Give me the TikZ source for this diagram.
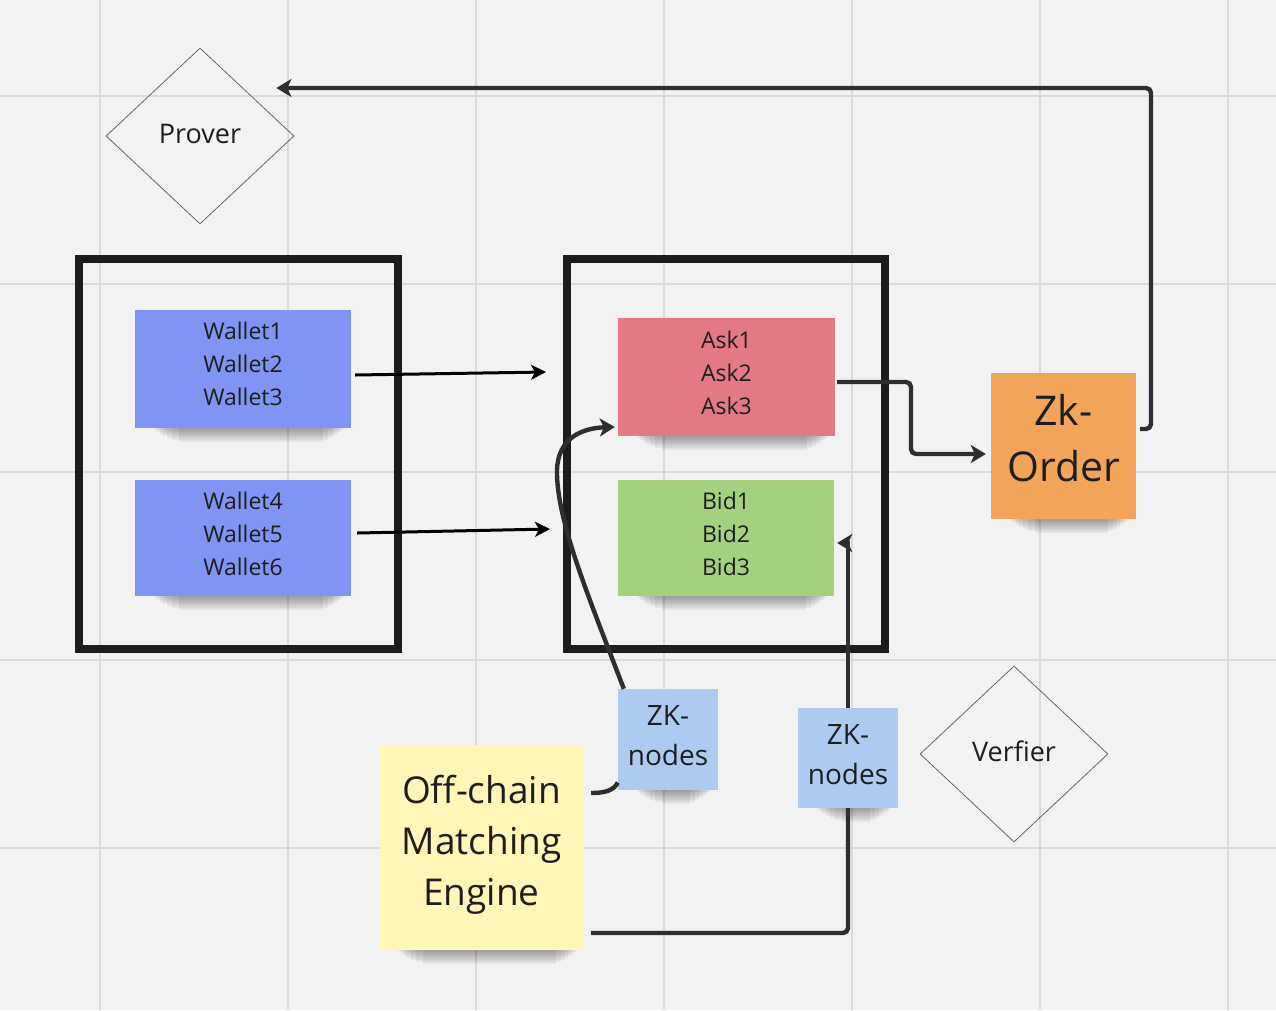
\documentclass[tikz,border=0pt]{standalone}
\usepackage{fontspec}
\setmainfont{Open Sans}
\usetikzlibrary{shapes.geometric,arrows.meta,calc}
\definecolor{bg}{HTML}{F2F2F2}
\definecolor{gridc}{HTML}{DADADA}
\definecolor{walletc}{HTML}{8094F3}
\definecolor{askc}{HTML}{E37985}
\definecolor{bidc}{HTML}{A4D07F}
\definecolor{orderc}{HTML}{F2A45B}
\definecolor{zkc}{HTML}{ADCBF0}
\definecolor{offc}{HTML}{FFF6B8}
\definecolor{framec}{HTML}{1C1C1C}
\definecolor{arrc}{HTML}{2E2E2E}
\definecolor{txtc}{HTML}{1E1E1E}
\definecolor{diagc}{HTML}{666666}
\newcommand\stickshadow[1]{%
  \foreach \h/\l/\r in {2/20/8,4/22/10,6/25/13,8/28/16,10/32/19,12/37/23,14/44/28}{%
    \fill[black,opacity=0.055] ($(#1.south west)+(\l,0)$) rectangle ($(#1.south east)+(-\r,\h)$);
  }%
}
\tikzset{
  sticky/.style={inner sep=0},
  stext/.style={inner sep=0, align=center, text=txtc},
  frame/.style={draw=framec, line width=8},
  thinarr/.style={draw=black, line width=3, -{Stealth[length=15,width=15,inset=4]}},
  arr/.style={draw=arrc, line width=4.4, rounded corners=5, -{Stealth[length=15,width=18,inset=4]}},
  conn/.style={draw=arrc, line width=4.4, rounded corners=5},
  decision/.style={diamond, draw=diagc, line width=0.8, inner sep=0},
  dtext/.style={inner sep=0, text=txtc, font=\fontsize{27}{36}\selectfont},
}
\begin{document}
\begin{tikzpicture}[x=1pt,y=-1pt]
\useasboundingbox (0,0) rectangle (1276,1010);
\fill[bg] (0,0) rectangle (1276,1010);
% grid
\foreach \gx in {100,288,476,664,852,1040,1228}
  \draw[gridc, line width=2] (\gx,0) -- (\gx,1010);
\foreach \gy in {96,284,472,660,848}
  \draw[gridc, line width=2] (0,\gy) -- (1276,\gy);

% frames
\node[frame, minimum width=319, minimum height=390, inner sep=0] (leftframe) at (238.5,454) {};
\node[frame, minimum width=318, minimum height=390, inner sep=0] (rightframe) at (726,454) {};

% diamonds
\node[decision, minimum width=188, minimum height=176] (prover) at (200,136) {};
\node[dtext] (provert) at (200,134) {Prover};
\node[decision, minimum width=188, minimum height=176] (verifier) at (1014,754) {};
\node[dtext] (verifiert) at (1014,751) {Verfier};

% stickies
\node[sticky, fill=walletc, minimum width=216, minimum height=118] (w1) at (243,369) {};
\node[sticky, fill=walletc, minimum width=216, minimum height=116] (w2) at (243,538) {};
\node[sticky, fill=askc, minimum width=217, minimum height=118] (ask) at (726.5,377) {};
\node[sticky, fill=bidc, minimum width=216, minimum height=116] (bid) at (726,538) {};
\node[sticky, fill=orderc, minimum width=145, minimum height=146] (order) at (1063.5,446) {};
\node[sticky, fill=zkc, minimum width=100, minimum height=101] (zk1) at (668,739.5) {};
\node[sticky, fill=zkc, minimum width=100, minimum height=100] (zk2) at (848,758) {};
\node[sticky, fill=offc, minimum width=205, minimum height=205] (off) at (481.5,847.5) {};

\stickshadow{w1}
\stickshadow{w2}
\stickshadow{ask}
\stickshadow{bid}
\stickshadow{order}
\stickshadow{zk1}
\stickshadow{zk2}
\stickshadow{off}

% texts
\node[stext, font=\fontsize{23}{33}\selectfont] (w1t) at ($(w1)+(0,-5)$) {Wallet1\\Wallet2\\Wallet3};
\node[stext, font=\fontsize{23}{33}\selectfont] (w2t) at ($(w2)+(0,-4)$) {Wallet4\\Wallet5\\Wallet6};
\node[stext, font=\fontsize{23}{33}\selectfont] (askt) at ($(ask)+(0,-4)$) {Ask1\\Ask2\\Ask3};
\node[stext, font=\fontsize{23}{33}\selectfont] (bidt) at ($(bid)+(0,-4)$) {Bid1\\Bid2\\Bid3};
\node[stext, font=\fontsize{41}{56}\selectfont] (ordert) at ($(order)+(0,-8)$) {Zk-\\Order};
\node[stext, font=\fontsize{28}{40}\selectfont] (zk1t) at ($(zk1)+(0,-4)$) {ZK-\\nodes};
\node[stext, font=\fontsize{28}{40}\selectfont] (zk2t) at ($(zk2)+(0,-3)$) {ZK-\\nodes};
\node[stext, font=\fontsize{37}{51}\selectfont] (offt) at ($(off)+(0,-3)$) {Off-chain\\Matching\\Engine};

% free ends
\coordinate (e1) at (546,372);
\coordinate (e2) at (550,529);

% connectors
\draw[thinarr] ($(w1.east)+(4,6)$) -- (e1);
\draw[thinarr] ($(w2.east)+(6,-5)$) -- (e2);
\draw[arr] ($(ask.east)+(2,5)$) -- (911,382) -- (911,454) -- ($(order.west)+(-5,8)$);
\draw[arr] ($(order.east)+(4,-17)$) -- (1151,429) -- (1151,88) -- ($(prover.east)+(-18,-48)$);
\draw[conn] ($(off.east)+(7,-54.5)$) .. controls (606,793) and (614,790) .. ($(zk1.west)+(0,43)$);
\draw[arr, rounded corners=0] ($(zk1.north west)+(6,0)$) .. controls (590,600) and (556,520) .. (557,470) .. controls (558,438) and (582,428) .. ($(ask.west)+(-3,50)$);
\draw[conn] ($(off.east)+(7,85.5)$) -- (848,933) -- (zk2.south);
\draw[arr, rounded corners=0] (zk2.north) -- (848,543) -- ($(bid.east)+(3,5)$);
\end{tikzpicture}
\end{document}
